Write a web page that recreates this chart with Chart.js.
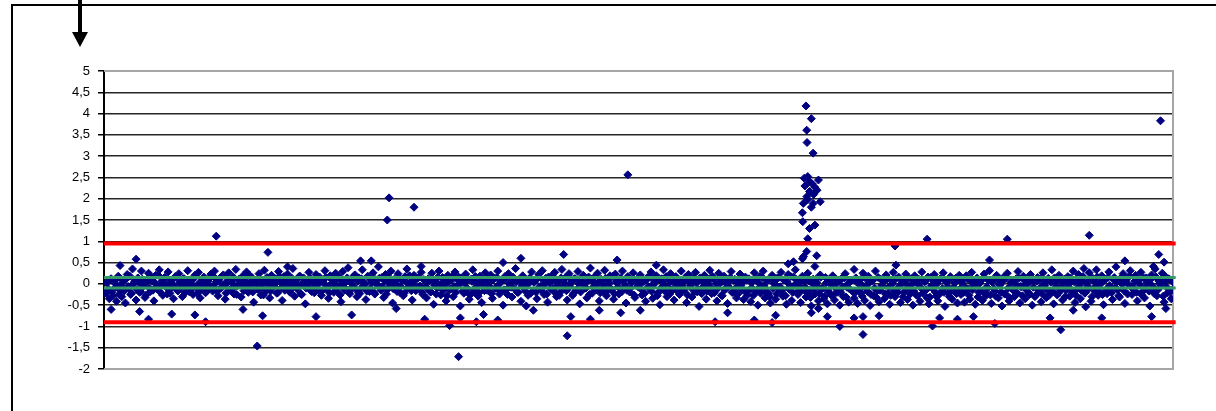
<!DOCTYPE html>
<html>
<head>
<meta charset="utf-8">
<title>Scatter</title>
<script src="https://cdn.jsdelivr.net/npm/chart.js@4/dist/chart.umd.min.js"></script>
<style>
  html, body { margin: 0; padding: 0; background: #fff; overflow: hidden; }
  body { width: 1216px; height: 411px; position: relative; }
  #frame {
    position: absolute; left: 11px; top: 4px;
    width: 1400px; height: 600px;
    border: 2px solid #000;
  }
  #arrow { position: absolute; left: 0; top: 0; }
  #chart { position: absolute; left: 0; top: 0; }
</style>
</head>
<body>
<div id="frame"></div>
<svg id="arrow" width="120" height="60">
  <rect x="78" y="0" width="4" height="34" fill="#000"/>
  <polygon points="72,32 88,32 80,47" fill="#000"/>
</svg>
<canvas id="chart" width="1216" height="411"></canvas>
<script>
const stretch0 = [-0.22, 0.05, -0.35, 0.12, -0.28, 0.02, -0.41, 0.18, -0.15, -0.3, 0.08, -0.45, 0.22, -0.1, -0.25, 0.35, 0.04, -0.38, 0.14, -0.2,
  0.3, -0.05, -0.32, 0.1, 0.25, -0.18, 0.06, -0.4, 0.2, -0.12, 0.33, -0.02, -0.27, 0.15, -0.08, 0.28, -0.22, 0.09, -0.35, 0.17,
  -0.14, 0.24, 0.01, -0.3, 0.12, -0.06, 0.31, -0.19, 0.07, -0.25, 0.2, -0.1, 0.27, -0.33, 0.03, 0.16, -0.21, 0.1, -0.05, 0.23];
const stretch1 = [-0.17, 0.3, 0.05, -0.28, 0.13, -0.09, 0.21, -0.36, 0.02, 0.26, -0.14, 0.08, -0.24, 0.34, -0.04, 0.11, -0.31, 0.19, -0.07, 0.28,
  -0.2, 0.04, 0.15, -0.43, 0.09, -0.12, 0.24, -0.26, 0.01, 0.32, -0.16, 0.07, -0.33, 0.2, -0.03, 0.12, -0.22, 0.29, 0.06, -0.39,
  0.17, -0.1, 0.23, -0.18, 0.03, 0.36, -0.29, 0.1, -0.06, 0.18, -0.25, 0.14, -0.47, 0.05, 0.27, -0.13, 0.09, -0.21, 0.22, -0.02];
const stretch2 = [0.16, -0.27, 0.07, 0.31, -0.11, -0.34, 0.19, 0.02, -0.2, 0.25, -0.08, 0.12, -0.42, 0.29, -0.15, 0.05, 0.38, -0.23, 0.1, -0.05,
  0.21, -0.3, 0.14, -0.12, 0.33, 0.03, -0.37, 0.18, -0.18, 0.08, 0.26, -0.24, 0.0, 0.4, -0.09, 0.15, -0.32, 0.22, -0.14, 0.06,
  0.3, -0.45, 0.11, -0.03, 0.24, -0.2, 0.09, -0.28, 0.17, 0.35, -0.1, 0.04, -0.38, 0.2, -0.16, 0.13, -0.06, 0.27, -0.25, 0.08];
const stretch3 = [-0.33, 0.12, -0.18, 0.25, -0.48, 0.06, -0.1, 0.3, -0.26, 0.15, -0.04, -0.4, 0.2, -0.14, 0.09, -0.3, 0.28, -0.07, 0.16, -0.52,
  0.04, -0.22, 0.23, -0.12, -0.36, 0.11, 0.33, -0.19, 0.02, -0.29, 0.18, -0.44, 0.07, 0.26, -0.15, -0.05, 0.21, -0.34, 0.13, -0.09,
  0.3, -0.24, 0.05, -0.5, 0.17, -0.13, 0.24, -0.02, -0.31, 0.1, 0.36, -0.2, 0.08, -0.41, 0.19, -0.11, 0.03, -0.27, 0.14, 0.28];
const stretch4 = [-0.16, 0.09, -0.35, 0.22, -0.06, 0.31, -0.25, 0.13, -0.43, 0.04, 0.18, -0.12, 0.27, -0.3, 0.07, -0.2, 0.34, -0.08, 0.15, -0.38,
  0.24, 0.01, -0.27, 0.12, -0.15, 0.29, -0.47, 0.06, 0.2, -0.1, -0.33, 0.16, 0.37, -0.22, 0.03, -0.05, 0.25, -0.4, 0.11, -0.17,
  0.32, -0.28, 0.08, 0.19, -0.13, -0.36, 0.23, 0.02, -0.24, 0.14, 0.3, -0.09, -0.45, 0.17, -0.19, 0.05, 0.26, -0.32, 0.1, -0.03];
const stretch5 = [0.21, -0.26, 0.06, -0.41, 0.15, -0.11, 0.28, -0.34, 0.03, 0.19, -0.21, -0.49, 0.12, 0.33, -0.07, -0.3, 0.09, 0.24, -0.16, -0.38,
  0.17, 0.0, -0.25, 0.3, -0.12, 0.07, -0.44, 0.22, -0.04, -0.31, 0.14, 0.27, -0.19, -0.53, 0.1, -0.08, 0.2, -0.36, 0.05, 0.32,
  -0.23, 0.13, -0.14, -0.4, 0.25, 0.02, -0.28, 0.18, -0.1, -0.46, 0.08, 0.29, -0.2, 0.11, -0.33, 0.04, 0.23, -0.15, -0.37, 0.16];
const stretch6 = [-0.27, 0.12, -0.42, 0.05, 0.26, -0.18, -0.5, 0.17, -0.09, 0.3, -0.33, 0.08, -0.22, -0.45, 0.2, 0.01, -0.36, 0.14, -0.13, 0.27,
  -0.29, 0.1, -0.48, 0.22, -0.06, -0.39, 0.16, 0.33, -0.2, -0.03, -0.44, 0.18, 0.07, -0.31, 0.25, -0.15, -0.52, 0.11, -0.24, 0.04,
  -0.4, 0.21, -0.11, -0.35, 0.15, -0.47, 0.06, -0.26, 0.19, -0.38, 0.02, -0.2, -0.5, 0.13, -0.3, 0.24, -0.08, -0.43, 0.09, -0.17];
const stretch7 = [-0.34, 0.14, -0.46, 0.03, -0.22, 0.25, -0.39, -0.1, 0.18, -0.51, 0.07, -0.28, 0.3, -0.16, -0.42, 0.11, -0.05, -0.35, 0.21, -0.24,
  -0.48, 0.09, 0.27, -0.3, -0.13, 0.16, -0.44, 0.02, -0.2, 0.23, -0.37, -0.07, 0.12, -0.5, 0.19, -0.26, -0.02, -0.41, 0.28, -0.15,
  0.06, -0.33, -0.47, 0.15, -0.11, 0.22, -0.29, -0.4, 0.1, -0.18, 0.26, -0.53, 0.04, -0.23, 0.17, -0.36, -0.08, 0.13, -0.45, 0.2];
const stretch8 = [-0.25, 0.1, -0.43, 0.19, -0.12, -0.36, 0.27, -0.05, -0.48, 0.14, -0.2, 0.06, -0.39, 0.23, -0.28, -0.1, 0.31, -0.46, 0.08, -0.17,
  0.2, -0.33, -0.02, -0.52, 0.16, -0.24, 0.25, -0.4, 0.03, -0.14, -0.3, 0.12, 0.29, -0.45, -0.07, 0.18, -0.35, 0.0, -0.21, 0.22,
  -0.5, 0.09, -0.27, 0.15, -0.11, -0.42, 0.26, -0.04, -0.32, 0.13, -0.19, 0.33, -0.47, 0.05, -0.26, 0.2, -0.09, -0.38, 0.11, -0.15];
const stretch9 = [0.17, -0.29, 0.05, 0.3, -0.44, -0.12, 0.22, -0.35, 0.08, 0.36, -0.2, -0.05, 0.26, -0.41, 0.13, -0.17, 0.33, -0.27, 0.02, 0.19,
  -0.49, 0.1, -0.23, 0.28, -0.08, -0.37, 0.15, 0.4, -0.14, -0.31, 0.06, 0.24, -0.46, 0.12, -0.02, 0.31, -0.25, -0.1, 0.2, -0.4,
  0.09, 0.27, -0.18, -0.33, 0.14, 0.03, -0.52, 0.21, -0.12, 0.35, -0.28, 0.07, -0.06, 0.25, -0.43, 0.16, -0.21, 0.11, -0.35, 0.04];

// Tighter samples that fill the solid core of the band (between the stretch samples)
const core0 = [0.02, -0.12, 0.1, -0.2, 0.05, -0.08, 0.14, -0.25, -0.03, 0.08, -0.16, 0.12, -0.06, 0.18, -0.22, 0.0, 0.09, -0.13, 0.04, -0.18,
  0.11, -0.04, -0.27, 0.07, -0.1, 0.15, -0.15, 0.03, -0.07, 0.2, -0.19, 0.06, -0.02, 0.13, -0.24, 0.01, -0.11, 0.1, -0.05, 0.16,
  -0.17, 0.04, -0.09, 0.12, -0.21, 0.07, -0.01, -0.14, 0.09, -0.06, 0.17, -0.23, 0.02, -0.12, 0.11, -0.03, -0.18, 0.06, 0.14, -0.08];
const core1 = [-0.05, 0.13, -0.18, 0.06, -0.1, 0.19, -0.02, -0.22, 0.08, -0.14, 0.03, 0.16, -0.07, -0.25, 0.1, -0.01, 0.14, -0.16, 0.05, -0.11,
  0.21, -0.04, -0.19, 0.09, 0.0, -0.13, 0.12, -0.08, -0.26, 0.07, 0.15, -0.03, -0.17, 0.11, -0.06, 0.02, -0.21, 0.18, -0.09, 0.04,
  -0.15, 0.1, -0.02, -0.2, 0.13, -0.07, 0.06, -0.12, 0.17, -0.24, 0.01, 0.09, -0.1, -0.04, 0.14, -0.18, 0.03, -0.08, 0.12, -0.14];
const core2 = [0.08, -0.16, 0.01, 0.15, -0.09, -0.21, 0.11, -0.04, 0.05, -0.13, 0.18, -0.26, -0.01, 0.09, -0.11, 0.14, -0.19, 0.03, -0.07, 0.2,
  -0.14, 0.06, -0.23, 0.12, -0.05, 0.0, -0.17, 0.16, -0.1, 0.04, -0.2, 0.1, -0.03, 0.13, -0.15, -0.08, 0.07, -0.24, 0.17, -0.02,
  0.09, -0.12, 0.02, -0.18, 0.14, -0.06, 0.11, -0.22, 0.05, -0.09, 0.19, -0.16, -0.01, 0.08, -0.13, 0.15, -0.05, -0.2, 0.1, -0.07];
const core3 = [-0.1, 0.07, -0.19, 0.12, -0.03, -0.24, 0.16, -0.08, 0.02, -0.15, 0.1, -0.28, 0.05, -0.12, 0.18, -0.06, -0.2, 0.09, -0.01, 0.14,
  -0.17, 0.03, -0.09, 0.11, -0.26, 0.06, -0.13, 0.17, -0.04, -0.21, 0.08, 0.0, -0.16, 0.13, -0.07, 0.04, -0.23, 0.1, -0.11, 0.15,
  -0.02, -0.18, 0.07, -0.14, 0.12, -0.25, 0.01, -0.08, 0.16, -0.12, 0.05, -0.2, 0.09, -0.05, 0.13, -0.17, -0.03, 0.11, -0.22, 0.06];
const core4 = [0.04, -0.2, 0.13, -0.07, -0.15, 0.09, -0.01, -0.24, 0.16, -0.11, 0.06, -0.18, 0.11, -0.04, -0.27, 0.14, -0.09, 0.02, -0.16, 0.19,
  -0.06, 0.08, -0.22, 0.12, -0.13, 0.0, -0.19, 0.15, -0.03, -0.1, 0.07, -0.25, 0.1, -0.08, 0.17, -0.14, 0.03, -0.21, 0.06, -0.05,
  0.13, -0.17, 0.01, -0.12, 0.18, -0.23, 0.05, -0.07, 0.11, -0.19, 0.08, -0.02, -0.15, 0.14, -0.1, 0.04, -0.26, 0.09, -0.06, 0.12];
const core5 = [-0.13, 0.05, -0.22, 0.1, -0.06, 0.15, -0.18, -0.02, 0.08, -0.28, 0.12, -0.1, 0.03, -0.16, 0.17, -0.07, -0.24, 0.06, -0.12, 0.13,
  0.0, -0.2, 0.09, -0.05, -0.15, 0.16, -0.26, 0.04, -0.09, 0.11, -0.19, 0.02, -0.13, 0.14, -0.23, 0.07, -0.04, -0.17, 0.1, -0.08,
  0.18, -0.21, 0.01, -0.11, 0.12, -0.27, 0.06, -0.14, 0.03, -0.06, 0.15, -0.2, 0.08, -0.1, -0.25, 0.11, -0.03, 0.05, -0.16, 0.09];
const core6 = [-0.18, 0.06, -0.09, -0.27, 0.11, -0.14, 0.02, -0.22, 0.15, -0.05, -0.19, 0.08, -0.3, 0.12, -0.11, 0.0, -0.24, 0.14, -0.07, -0.16,
  0.09, -0.28, 0.04, -0.12, 0.17, -0.2, -0.03, 0.1, -0.25, 0.05, -0.15, 0.13, -0.08, -0.21, 0.07, -0.32, 0.01, -0.13, 0.11, -0.06,
  -0.23, 0.16, -0.1, -0.29, 0.03, -0.17, 0.09, -0.04, -0.26, 0.12, -0.14, 0.05, -0.2, -0.08, 0.14, -0.31, 0.0, -0.12, 0.08, -0.19];
const core7 = [-0.21, 0.04, -0.13, 0.1, -0.29, -0.06, 0.13, -0.18, 0.02, -0.25, 0.08, -0.1, -0.32, 0.15, -0.15, -0.03, 0.06, -0.23, 0.11, -0.08,
  -0.27, 0.01, -0.16, 0.12, -0.2, -0.05, 0.09, -0.3, 0.03, -0.12, 0.14, -0.24, -0.01, -0.17, 0.07, -0.28, 0.1, -0.09, -0.22, 0.05,
  -0.14, 0.16, -0.31, -0.04, 0.08, -0.19, 0.0, -0.26, 0.12, -0.11, -0.2, 0.06, -0.07, -0.3, 0.13, -0.15, 0.02, -0.23, 0.09, -0.12];
const core8 = [0.03, -0.2, -0.09, 0.12, -0.27, 0.06, -0.14, -0.04, 0.1, -0.31, 0.01, -0.17, 0.14, -0.22, -0.07, 0.08, -0.26, 0.04, -0.12, -0.29,
  0.11, -0.02, -0.19, 0.07, -0.24, 0.15, -0.1, -0.33, 0.05, -0.15, 0.0, -0.21, 0.13, -0.06, -0.28, 0.09, -0.13, 0.02, -0.25, 0.1,
  -0.08, -0.3, 0.06, -0.16, 0.12, -0.23, -0.01, -0.11, 0.08, -0.27, 0.04, -0.18, 0.14, -0.05, -0.22, 0.1, -0.14, 0.01, -0.3, 0.07];
const core9 = [-0.08, 0.14, -0.19, 0.05, -0.27, 0.1, -0.03, -0.15, 0.17, -0.22, 0.02, -0.11, 0.12, -0.3, 0.07, -0.06, 0.16, -0.18, 0.0, -0.25,
  0.09, -0.13, 0.15, -0.04, -0.21, 0.11, -0.09, 0.04, -0.28, 0.13, -0.01, -0.16, 0.08, -0.24, 0.18, -0.07, -0.12, 0.06, -0.2, 0.1,
  -0.02, -0.26, 0.14, -0.1, 0.03, -0.17, 0.11, -0.05, -0.23, 0.16, -0.14, 0.01, 0.09, -0.29, 0.05, -0.08, 0.12, -0.19, 0.07, -0.11];

// Samples that stand away from the band: sample number and value
const outlierSample = [4, 9, 18, 20, 25, 38, 51, 57, 63, 78, 86, 89, 92, 103, 119, 139, 144, 150, 159, 160,
  164, 174, 178, 180, 194, 199, 200, 209, 213, 221, 224, 234, 237, 241, 258, 260, 262, 273, 278, 288,
  290, 294, 301, 310, 343, 350, 365, 375, 377, 384, 387, 392,
  394, 397, 394.4, 394.6, 398, 393, 395, 401, 393.4, 399, 396, 394.5, 398, 402, 392.5, 392, 392.2, 396, 399, 395, 394.4, 392.6, 400, 399,
  397.5, 395, 398.3, 396, 397, 400.2,
  397, 401, 406, 413, 421, 421, 426, 426, 435, 444, 444.5, 462, 465, 469, 479, 488, 497, 500, 507, 531,
  537, 544, 551, 553, 560, 573, 588, 589, 592, 593, 595, 596];
const outlierValue = [-0.6, 0.43, 0.58, -0.65, -0.83, -0.71, -0.73, -0.89, 1.12, -0.6, -1.46, -0.75, 0.74, 0.4, -0.77, -0.73, 0.54, 0.54, 1.5, 2.02,
  -0.58, 1.8, 0.41, -0.83, -0.98, -1.71, -0.8, -0.89, -0.72, -0.85, 0.5, 0.6, -0.52, -0.62, 0.69, -1.22, -0.77, -0.83, -0.62, 0.56,
  -0.68, 2.56, -0.62, 0.44, -0.89, -0.68, -0.85, -0.91, -0.74, 0.47, 0.52, 0.59,
  4.18, 3.88, 3.61, 3.32, 3.07, 2.48, 2.52, 2.44, 2.3, 2.27, 2.17, 2.05, 1.89, 1.93, 1.89, 1.67, 1.46, 1.3, 1.38, 1.06, 0.76, 0.64, 0.66, 0.41,
  2.35, 1.98, 2.1, 2.4, 1.8, 2.2,
  -0.68, -0.58, -0.77, -1.0, -0.8, 0.34, -1.19, -0.77, -0.75, 0.89, 0.44, 1.05, -0.99, -0.8, -0.83, -0.77, 0.56, -0.93, 1.05, -0.8,
  -1.08, -0.62, -0.54, 1.14, -0.8, 0.54, -0.77, 0.41, 0.69, 3.83, 0.51, -0.58];

// Horizontal reference lines
const limitLevels = [0.95, -0.9];
const centreLevels = [0.15, -0.1];

const yTicks = [-2, -1.5, -1, -0.5, 0, 0.5, 1, 1.5, 2, 2.5, 3, 3.5, 4, 4.5, 5];

const sampleCount = 600;
const navy = '#000080';

const bandValues = [].concat(stretch0, stretch1, stretch2, stretch3, stretch4,
  stretch5, stretch6, stretch7, stretch8, stretch9);
const coreValues = [].concat(core0, core1, core2, core3, core4,
  core5, core6, core7, core8, core9);

const points = bandValues.map((v, i) => ({ x: i + 1, y: v }))
  .concat(coreValues.map((v, i) => ({ x: i + 1.5, y: v })))
  .concat(outlierSample.map((s, i) => ({ x: s, y: outlierValue[i] })));

function levelLine(level, color, width) {
  return {
    type: 'line',
    data: [{ x: 0, y: level }, { x: sampleCount + 1.5, y: level }],
    borderColor: color,
    borderWidth: width,
    pointRadius: 0,
    clip: false,
    order: 0,
  };
}

// gray frame on top, right and bottom of the plot area
const plotFrame = {
  id: 'plotFrame',
  beforeDatasetsDraw(chart) {
    const { ctx, chartArea: a } = chart;
    ctx.save();
    ctx.strokeStyle = '#a6a6a6';
    ctx.lineWidth = 2;
    ctx.beginPath();
    ctx.moveTo(a.left, a.top);
    ctx.lineTo(a.right, a.top);
    ctx.lineTo(a.right, a.bottom);
    ctx.lineTo(a.left, a.bottom);
    ctx.stroke();
    ctx.restore();
  }
};

const ctx = document.getElementById('chart').getContext('2d');
new Chart(ctx, {
  type: 'scatter',
  data: {
    datasets: [
      levelLine(limitLevels[0], '#ff0000', 4),
      levelLine(limitLevels[1], '#ff0000', 4),
      levelLine(centreLevels[0], '#339966', 3),
      levelLine(centreLevels[1], '#339966', 3),
      {
        type: 'scatter',
        data: points,
        pointStyle: 'rectRot',
        pointRadius: 4,
        backgroundColor: navy,
        borderColor: navy,
        borderWidth: 1,
        order: 1,
      }
    ]
  },
  options: {
    responsive: false,
    animation: false,
    layout: { padding: { left: 0, top: 71, right: 43, bottom: 42 } },
    plugins: { legend: { display: false }, tooltip: { enabled: false } },
    scales: {
      x: {
        type: 'linear',
        min: 0,
        max: sampleCount,
        display: false,
      },
      y: {
        min: -2,
        max: 5,
        afterFit(scale) { scale.width = 104; },
        afterBuildTicks(scale) { scale.ticks = yTicks.map(v => ({ value: v })); },
        border: { color: '#000', width: 2 },
        grid: {
          color: (c) => (c.tick && (c.tick.value === 5 || c.tick.value === -2)) ? '#a6a6a6' : '#262626',
          lineWidth: 1.5,
          tickLength: 6,
          tickColor: '#000',
        },
        ticks: {
          padding: 8,
          color: '#000',
          font: { family: 'Liberation Sans, Arial, sans-serif', size: 13 },
          callback: (v) => String(v).replace('.', ','),
        }
      }
    }
  },
  plugins: [plotFrame]
});
</script>
</body>
</html>
